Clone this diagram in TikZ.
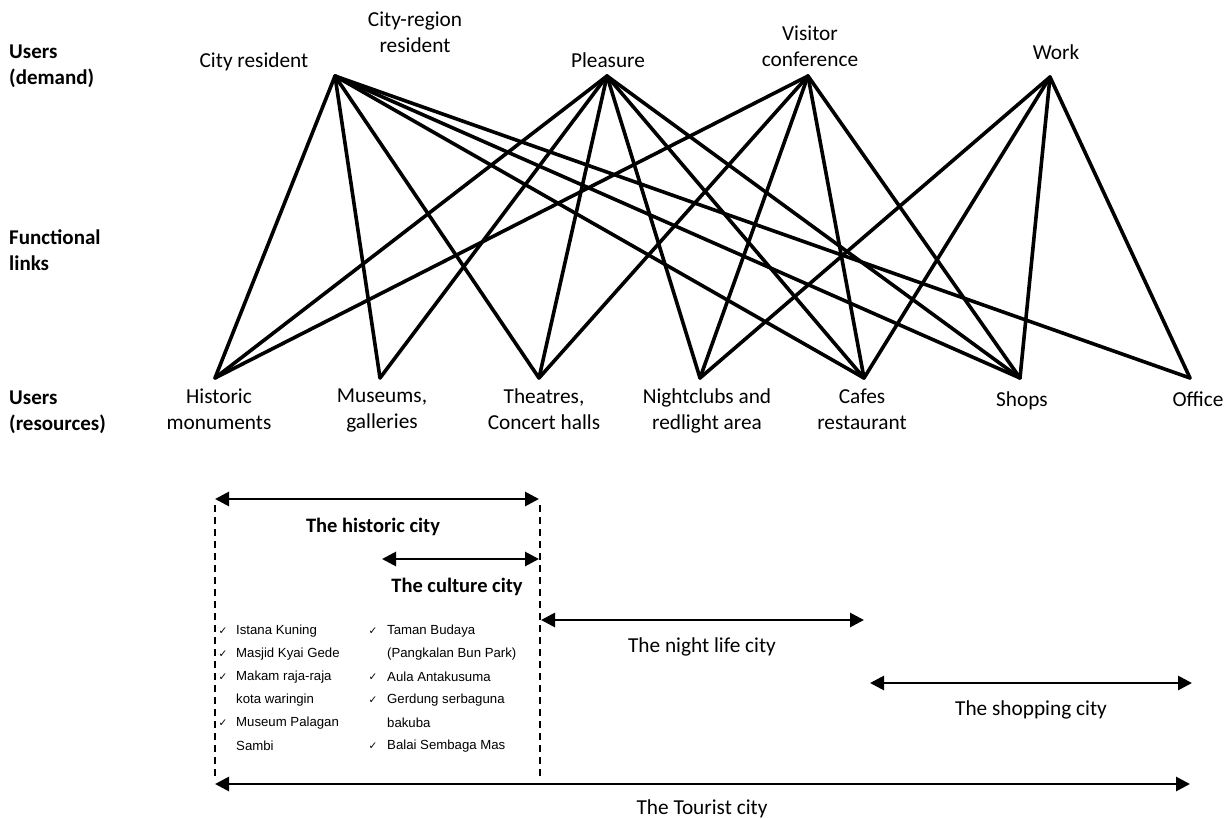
\documentclass[tikz,border=0pt]{standalone}
\usepackage{fontspec}
\setmainfont{Carlito}
\newfontfamily\listfont{Liberation Sans}
\newfontfamily\tickfont{DejaVu Sans}
\usetikzlibrary{arrows.meta}

\begin{document}
\begin{tikzpicture}[x=1pt,y=-1pt,
  lbl/.style={font=\fontsize{21.3}{26}\selectfont, align=center, anchor=north, inner sep=0pt,
    execute at begin node=\strut},
  ttl/.style={font=\fontsize{20.5}{26}\selectfont\bfseries, anchor=base, inner sep=0pt},
  side/.style={font=\fontsize{21}{26}\selectfont\bfseries, align=left, anchor=north west, inner sep=0pt,
    execute at begin node=\strut},
  link/.style={line width=3.6pt, line cap=round, line join=round},
  span/.style={line width=2.8pt, {Triangle[length=14pt,width=14pt]}-{Triangle[length=14pt,width=14pt]}},
  border/.style={line width=1.2pt, dash pattern=on 7pt off 5pt},
  item/.style={font=\listfont\fontsize{13.2}{15}\selectfont, anchor=west, inner sep=0pt},
  tick/.style={font=\tickfont\fontsize{10.5}{12}\selectfont, inner sep=0pt}]

\useasboundingbox (0,0) rectangle (1229,819);

% row titles
\node[side] (dem) at (9,44.5) {Users\\(demand)};
\node[side] (fun) at (9,230) {Functional\\links};
\node[side] (res) at (9,390.5) {Users\\(resources)};

% users (demand)
\node[lbl] (cityres) at (254,49) {City resident};
\node[lbl] (regres) at (415,12) {City-region\\resident};
\node[lbl] (pleas) at (608,49) {Pleasure};
\node[lbl] (visit) at (810,25.5) {Visitor\\conference};
\node[lbl] (work) at (1056,41.5) {Work};

\coordinate (cr) at (335,76);
\coordinate (pl) at (607,76);
\coordinate (vc) at (808,76);
\coordinate (wk) at (1050,77);

% users (resources)
\node[lbl] (hist) at (219,388.5) {Historic\\monuments};
\node[lbl] (muse) at (382,388.5) {Museums,\\galleries};
\node[lbl] (thea) at (544,388.5) {Theatres,\\Concert halls};
\node[lbl] (night) at (707,388.5) {Nightclubs and\\redlight area};
\node[lbl] (cafe) at (862,388.5) {Cafes\\restaurant};
\node[lbl] (shop) at (1022,388.5) {Shops};
\node[lbl] (offi) at (1198,388.5) {Office};

\coordinate (hm) at (215,378);
\coordinate (mg) at (380,378);
\coordinate (th) at (539,378);
\coordinate (nc) at (700,378);
\coordinate (cf) at (864,378);
\coordinate (sh) at (1020,378);
\coordinate (of) at (1190,378);

% functional links
\foreach \b in {hm,mg,th,cf,sh,of} \draw[link] (cr) -- (\b);
\foreach \b in {hm,mg,th,nc,cf,sh} \draw[link] (pl) -- (\b);
\foreach \b in {hm,th,nc,cf,sh} \draw[link] (vc) -- (\b);
\foreach \b in {nc,cf,sh,of} \draw[link] (wk) -- (\b);

% city types
\coordinate (hisL) at (215,499);
\coordinate (hisR) at (539,499);
\coordinate (culL) at (382,559);
\coordinate (culR) at (539,559);
\coordinate (nitL) at (541,620);
\coordinate (nitR) at (864,620);
\coordinate (shpL) at (870,683);
\coordinate (shpR) at (1192,683);
\coordinate (touL) at (215,784);
\coordinate (touR) at (1190,784);

\draw[span] (hisL) -- (hisR);
\draw[span] (culL) -- (culR);
\draw[span] (nitL) -- (nitR);
\draw[span] (shpL) -- (shpR);
\draw[span] (touL) -- (touR);

\node[ttl] (histcity) at (373,532) {The historic city};
\node[ttl] (cultcity) at (457,592) {The culture city};
\node[ttl, font=\fontsize{21.3}{26}\selectfont] (nitcity) at (702,652) {The night life city};
\node[ttl, font=\fontsize{21.3}{26}\selectfont] (shpcity) at (1031,715) {The shopping city};
\node[ttl, font=\fontsize{21.3}{26}\selectfont] (toucity) at (702,814) {The Tourist city};

\coordinate (dlT) at (215,505);
\coordinate (dlB) at (215,780);
\coordinate (drT) at (540,505);
\coordinate (drB) at (540,780);
\draw[border] (dlT) -- (dlB);
\draw[border] (drT) -- (drB);

% places
\foreach \y/\t [count=\i] in {631/Istana Kuning, 654/Masjid Kyai Gede, 677/Makam raja-raja,
    700/kota waringin, 723/Museum Palagan, 746/Sambi}
  \node[item] (la\i) at (236,\y) {\t};
\foreach \y/\t [count=\i] in {631/Taman Budaya, 654/(Pangkalan Bun Park), 677/Aula Antakusuma,
    700/Gerdung serbaguna, 723/bakuba, 746/Balai Sembaga Mas}
  \node[item] (lb\i) at (387,\y) {\t};
\foreach \y [count=\i] in {631,654,677,723}
  \node[tick] (ta\i) at (223,\y) {✓};
\foreach \y [count=\i] in {631,677,700,746}
  \node[tick] (tb\i) at (373,\y) {✓};
\end{tikzpicture}
\end{document}
